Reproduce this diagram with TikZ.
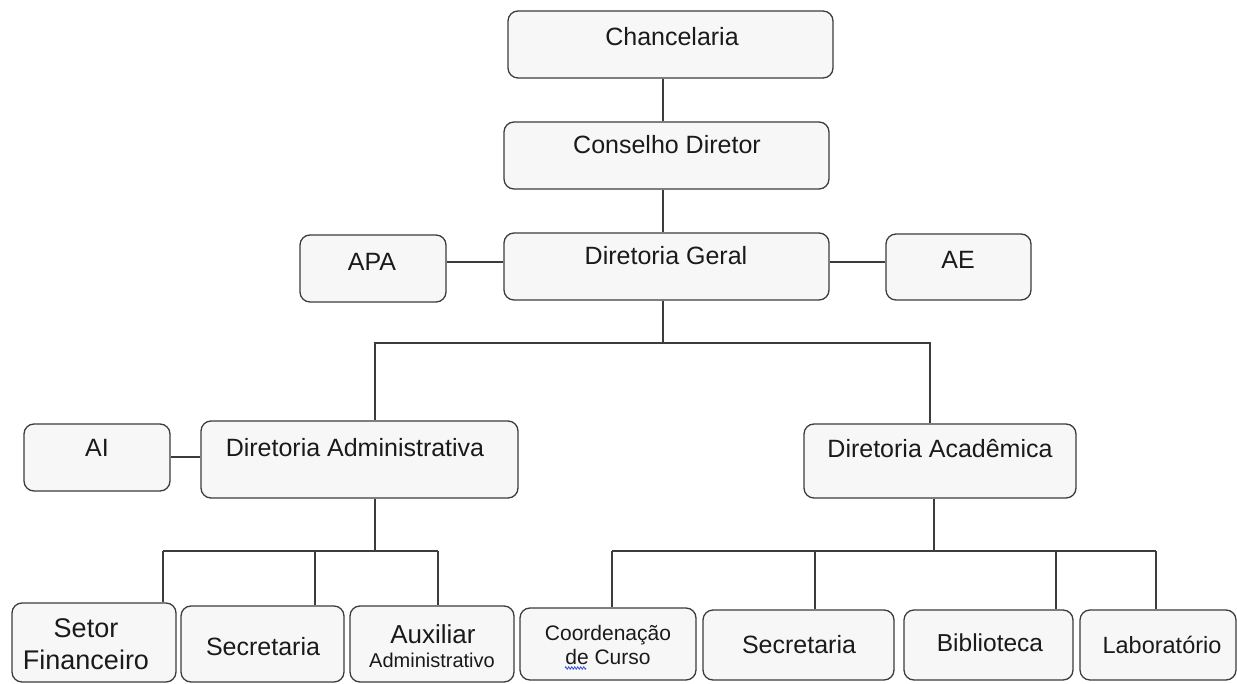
\documentclass[tikz,border=0pt]{standalone}
\usepackage{fontspec}
\setmainfont{Liberation Sans}
\usetikzlibrary{decorations.pathmorphing}
\definecolor{boxfill}{HTML}{F7F7F7}
\definecolor{boxline}{HTML}{3C3C3C}
\definecolor{txt}{HTML}{1A1A1A}
\definecolor{squig}{HTML}{3355DD}
\tikzset{
  box/.style={draw=boxline, fill=boxfill, line width=1.3pt, rounded corners=10pt, inner sep=0pt},
  lbl/.style={text=txt, inner sep=0pt, align=center, font=\fontsize{25}{28}\selectfont},
  conn/.style={draw=boxline, line width=1.3pt},
}
\begin{document}
\begin{tikzpicture}[x=1pt, y=-1pt]
\useasboundingbox (0,0) rectangle (1237,684);
% boxes
\node[box, minimum width=325pt, minimum height=67pt] (chanc) at (670.5,44.5) {};
\node[box, minimum width=325pt, minimum height=67pt] (cons) at (666.5,155.5) {};
\node[box, minimum width=325pt, minimum height=67pt] (dg) at (666.5,266.5) {};
\node[box, minimum width=146pt, minimum height=67pt] (apa) at (373,268.5) {};
\node[box, minimum width=145pt, minimum height=66pt] (ae) at (958.5,267) {};
\node[box, minimum width=146pt, minimum height=67pt] (ai) at (97,457.5) {};
\node[box, minimum width=317pt, minimum height=77pt] (dadm) at (359.5,459.5) {};
\node[box, minimum width=272pt, minimum height=74pt] (dac) at (940,461) {};
\node[box, minimum width=164pt, minimum height=79pt] (sf) at (94,642.5) {};
\node[box, minimum width=163pt, minimum height=76pt] (sec1) at (262.5,644) {};
\node[box, minimum width=164pt, minimum height=76pt] (aux) at (432,644) {};
\node[box, minimum width=176pt, minimum height=72pt] (coord) at (608,644) {};
\node[box, minimum width=191pt, minimum height=70pt] (sec2) at (798.5,645) {};
\node[box, minimum width=169pt, minimum height=70pt] (bib) at (988.5,645) {};
\node[box, minimum width=156pt, minimum height=70pt] (lab) at (1158,645) {};
% labels
\node[lbl] (chancT) at (672,37) {Chancelaria};
\node[lbl] (consT) at (667,145) {Conselho Diretor};
\node[lbl] (dgT) at (666,256) {Diretoria Geral};
\node[lbl] (apaT) at (372,262) {APA};
\node[lbl] (aeT) at (958,260) {AE};
\node[lbl] (aiT) at (97,448) {AI};
\node[lbl] (dadmT) at (355,448) {Diretoria Administrativa};
\node[lbl] (dacT) at (940,449) {Diretoria Acadêmica};
\node[lbl, font=\fontsize{27}{32}\selectfont] (sfT) at (86,644) {Setor\\Financeiro};
\node[lbl] (sec1T) at (263,647) {Secretaria};
\node[lbl, font=\fontsize{26}{28}\selectfont] (auxT1) at (433,634) {Auxiliar};
\node[lbl, font=\fontsize{20}{24}\selectfont] (auxT2) at (432,660) {Administrativo};
\node[lbl, font=\fontsize{21}{24}\selectfont] (coordT) at (608,645) {Coordenação\\de Curso};
\node[lbl] (sec2T) at (799,645) {Secretaria};
\node[lbl, font=\fontsize{24.5}{28}\selectfont] (bibT) at (990,643) {Biblioteca};
\node[lbl, font=\fontsize{23.5}{28}\selectfont] (labT) at (1162,645) {Laboratório};
% spell-check squiggle under "de"
\coordinate (sq1) at (565,668);
\coordinate (sq2) at (586,668);
\draw[squig, line width=0.8pt, decorate, decoration={zigzag, amplitude=1.2pt, segment length=3pt}] (sq1) -- (sq2);
% helper coordinates
\coordinate (xc) at (663,0);
\coordinate (hub) at (663,343);
\coordinate (hL) at (375,343);
\coordinate (hR) at (930,343);
\coordinate (y1) at (0,262);
\coordinate (y2) at (0,457);
\coordinate (aL) at (375,551);
\coordinate (aL1) at (163,551);
\coordinate (aL2) at (315,551);
\coordinate (aL3) at (438,551);
\coordinate (aR) at (934,551);
\coordinate (aR1) at (612,551);
\coordinate (aR2) at (815,551);
\coordinate (aR3) at (1056,551);
\coordinate (aR4) at (1156,551);
% connectors
\draw[conn] (chanc.south -| xc) -- (cons.north -| xc);
\draw[conn] (cons.south -| xc) -- (dg.north -| xc);
\draw[conn] (dg.south -| xc) -- (hub);
\draw[conn] (dadm.north -| hL) -- (hL) -- (hR) -- (dac.north -| hR);
\draw[conn] (apa.east |- y1) -- (dg.west |- y1);
\draw[conn] (dg.east |- y1) -- (ae.west |- y1);
\draw[conn] (ai.east |- y2) -- (dadm.west |- y2);
\draw[conn] (dadm.south -| aL) -- (aL);
\draw[conn] (aL1) -- (aL3);
\draw[conn] (aL1) -- (sf.north -| aL1);
\draw[conn] (aL2) -- (sec1.north -| aL2);
\draw[conn] (aL3) -- (aux.north -| aL3);
\draw[conn] (dac.south -| aR) -- (aR);
\draw[conn] (aR1) -- (aR4);
\draw[conn] (aR1) -- (coord.north -| aR1);
\draw[conn] (aR2) -- (sec2.north -| aR2);
\draw[conn] (aR3) -- (bib.north -| aR3);
\draw[conn] (aR4) -- (lab.north -| aR4);
\end{tikzpicture}
\end{document}
